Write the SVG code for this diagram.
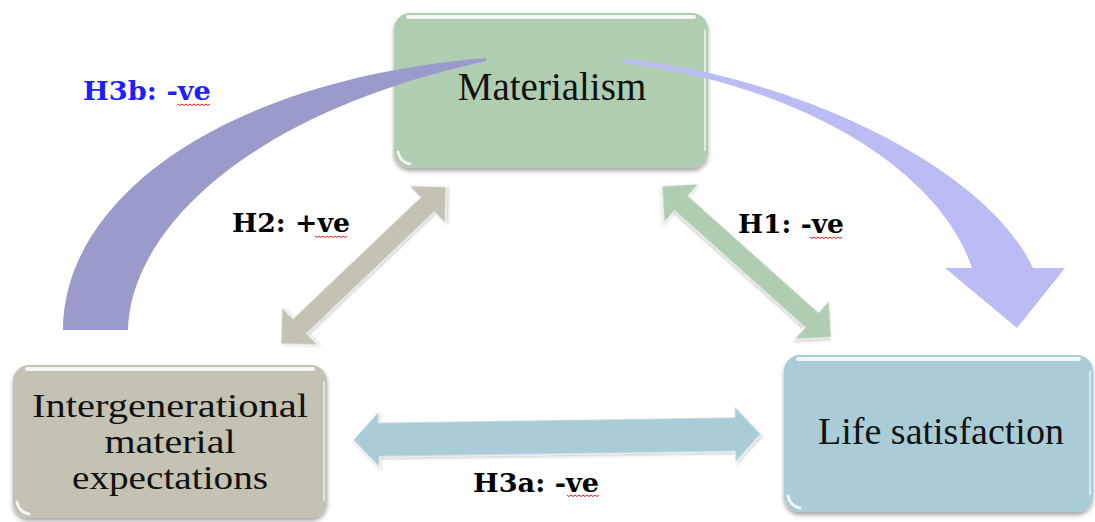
<svg xmlns="http://www.w3.org/2000/svg" width="1095" height="522" viewBox="0 0 1095 522">
<defs>
<filter id="sh" x="-10%" y="-10%" width="120%" height="130%">
<feDropShadow dx="0" dy="3" stdDeviation="2.2" flood-color="#000" flood-opacity="0.35"/>
</filter>
<filter id="ash" x="-10%" y="-20%" width="120%" height="140%">
<feDropShadow dx="1" dy="2" stdDeviation="1.5" flood-color="#000" flood-opacity="0.22"/>
</filter>
<filter id="soft" x="-5%" y="-5%" width="110%" height="110%">
<feGaussianBlur stdDeviation="0.6"/>
</filter>
</defs>
<style>
.box{stroke:none;filter:url(#sh)}
.gloss{fill:none;stroke:#fff;stroke-linecap:round}
.ntxt{font-family:"Liberation Serif","Times New Roman",serif;fill:#111;text-anchor:middle}
.lbl{font-family:"DejaVu Serif",Georgia,serif;font-weight:bold;font-size:26px;fill:#000}
.sq{fill:none;stroke:#e02020;stroke-width:1}
.arr{filter:url(#ash);stroke:#fff;stroke-opacity:0.55;stroke-width:1.2}
</style>

<g id="node-materialism">
<rect class="box" x="394" y="13" width="314" height="155" rx="16" fill="#afcdb0"/>
<path class="gloss" d="M408,17 H694" stroke-width="4" opacity="0.85"/>
<path class="gloss" d="M705,30 V150" stroke-width="2" opacity="0.6"/>
<path class="gloss" d="M398,152 Q400,162 410,164" stroke-width="3" opacity="0.8"/>
<text class="ntxt" x="552" y="100" font-size="39">Materialism</text>
</g>

<g id="node-intergenerational">
<rect class="box" x="13" y="365" width="314" height="153" rx="16" fill="#c3c2b3"/>
<path class="gloss" d="M27,369 H313" stroke-width="4" opacity="0.85"/>
<path class="gloss" d="M324,382 V500" stroke-width="2" opacity="0.6"/>
<path class="gloss" d="M17,502 Q19,512 29,514" stroke-width="3" opacity="0.8"/>
<text class="ntxt" x="170" y="417" font-size="34" textLength="276" lengthAdjust="spacingAndGlyphs">Intergenerational</text>
<text class="ntxt" x="170" y="453" font-size="34" textLength="131" lengthAdjust="spacingAndGlyphs">material</text>
<text class="ntxt" x="170" y="489" font-size="34" textLength="196" lengthAdjust="spacingAndGlyphs">expectations</text>
</g>

<g id="node-life-satisfaction">
<rect class="box" x="784" y="355" width="309" height="157" rx="16" fill="#a9ccd6"/>
<path class="gloss" d="M798,359 H1079" stroke-width="4" opacity="0.85"/>
<path class="gloss" d="M1090,372 V494" stroke-width="2" opacity="0.6"/>
<path class="gloss" d="M788,496 Q790,506 800,508" stroke-width="3" opacity="0.8"/>
<text class="ntxt" x="941" y="444" font-size="38">Life satisfaction</text>
</g>

<g id="connectors">
<path id="curve-left" d="M63,330 C63,200 220,80 486,58 L486,61 C240,115 130,235 128,330 Z" fill="#9b9bcb" filter="url(#soft)"/>
<path id="curve-right" d="M624,59 C790,75 985,165 1033,268 L1065,268 L1017,328 L945,268 L972,268 C940,170 800,85 624,63 Z" fill="#bcbcf5" filter="url(#soft)"/>
<path id="arrow-h1" class="arr" transform="translate(662,186) rotate(41.8)" fill="#afcdb0" d="M0,0 L26,-26 L26,-10 L201,-10 L201,-26 L227,0 L201,26 L201,10 L26,10 L26,26 Z"/>
<path id="arrow-h2" class="arr" transform="translate(281,344) rotate(-43.6)" fill="#c3c2b3" d="M0,0 L26,-26 L26,-10 L202,-10 L202,-26 L228,0 L202,26 L202,10 L26,10 L26,26 Z"/>
<path id="arrow-h3a" class="arr" transform="translate(353,440) rotate(-0.84)" fill="#a9ccd6" d="M0,0 L26,-28 L26,-17 L382,-17 L382,-28 L408,0 L382,28 L382,17 L26,17 L26,28 Z"/>
</g>

<g id="labels">
<text class="lbl" x="83" y="100" style="fill:#1e1eff" textLength="128" lengthAdjust="spacingAndGlyphs">H3b: -ve</text>
<path class="sq" d="M178,104 l2,1.5 l2,-1.5 l2,1.5 l2,-1.5 l2,1.5 l2,-1.5 l2,1.5 l2,-1.5 l2,1.5 l2,-1.5 l2,1.5 l2,-1.5 l2,1.5 l2,-1.5 l2,1.5 l2,-1.5"/>
<text class="lbl" x="232" y="232" textLength="118" lengthAdjust="spacingAndGlyphs">H2: +ve</text>
<path class="sq" d="M315,236 l2,1.5 l2,-1.5 l2,1.5 l2,-1.5 l2,1.5 l2,-1.5 l2,1.5 l2,-1.5 l2,1.5 l2,-1.5 l2,1.5 l2,-1.5 l2,1.5 l2,-1.5 l2,1.5 l2,-1.5"/>
<text class="lbl" x="738" y="233" textLength="106" lengthAdjust="spacingAndGlyphs">H1: -ve</text>
<path class="sq" d="M810,237 l2,1.5 l2,-1.5 l2,1.5 l2,-1.5 l2,1.5 l2,-1.5 l2,1.5 l2,-1.5 l2,1.5 l2,-1.5 l2,1.5 l2,-1.5 l2,1.5 l2,-1.5 l2,1.5 l2,-1.5"/>
<text class="lbl" x="473" y="492" textLength="126" lengthAdjust="spacingAndGlyphs">H3a: -ve</text>
<path class="sq" d="M567,495 l2,1.5 l2,-1.5 l2,1.5 l2,-1.5 l2,1.5 l2,-1.5 l2,1.5 l2,-1.5 l2,1.5 l2,-1.5 l2,1.5 l2,-1.5 l2,1.5 l2,-1.5 l2,1.5 l2,-1.5"/>
</g>
</svg>
